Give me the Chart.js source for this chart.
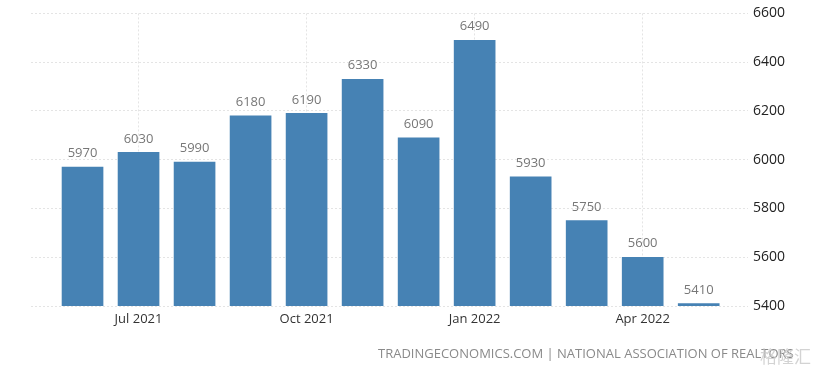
<!DOCTYPE html>
<html>
<head>
<meta charset="utf-8">
<script src="https://cdn.jsdelivr.net/npm/chart.js@4"></script>
<style>
  html, body { margin: 0; padding: 0; background: #fff; }
  #wrap { position: relative; width: 831px; height: 375px; }
  #fuente {
    position: absolute; left: 378px; top: 344px;
    font: 13px "Open Sans", sans-serif; color: #8a8a8a; white-space: nowrap;
  }
  #marca {
    position: absolute; left: 760px; top: 343px;
    font: 17px "Noto Sans CJK SC", sans-serif; color: rgba(200,200,200,0.8);
  }
</style>
</head>
<body>
<div id="wrap">
  <canvas id="grafico" width="831" height="375"></canvas>
  <div id="fuente">TRADINGECONOMICS.COM | NATIONAL ASSOCIATION OF REALTORS</div>
  <div id="marca">格隆汇</div>
</div>
<script>
// meses (jun 2021 - mai 2022)
const meses = ["Jun 2021", "Jul 2021", "Aug 2021", "Sep 2021", "Oct 2021", "Nov 2021",
               "Dec 2021", "Jan 2022", "Feb 2022", "Mar 2022", "Apr 2022", "May 2022"];
const vendas = [5970, 6030, 5990, 6180, 6190, 6330, 6090, 6490, 5930, 5750, 5600, 5410];
const mesesComRotulo = [1, 4, 7, 10];
const yTicks = [5400, 5600, 5800, 6000, 6200, 6400, 6600];

const pontos = vendas.map((v, i) => ({ x: i, y: v }));

// rótulos de valor em cima das barras
const rotulosBarras = {
  id: "rotulosBarras",
  afterDatasetsDraw(chart) {
    const ctx = chart.ctx;
    const meta = chart.getDatasetMeta(0);
    ctx.save();
    ctx.font = '13px "Open Sans", sans-serif';
    ctx.fillStyle = "#777";
    ctx.textAlign = "center";
    ctx.textBaseline = "bottom";
    meta.data.forEach((bar, i) => {
      ctx.fillText(String(vendas[i]), bar.x, bar.y - 7);
    });
    ctx.restore();
  }
};

new Chart(document.getElementById("grafico"), {
  type: "bar",
  data: {
    datasets: [{
      data: pontos,
      backgroundColor: "#4682b4",
      barThickness: 41
    }]
  },
  options: {
    responsive: false,
    animation: false,
    layout: { padding: { left: 31, top: 13, right: 0, bottom: 0 } },
    plugins: { legend: { display: false }, tooltip: { enabled: false } },
    scales: {
      x: {
        type: "linear",
        min: -0.92,
        max: 11.88,
        offset: false,
        border: { display: false, dash: [2, 2] },
        grid: { color: "#e4e4e4", drawTicks: false, offset: false },
        afterBuildTicks(axis) {
          axis.ticks = mesesComRotulo.map(v => ({ value: v }));
        },
        afterFit(axis) { axis.height = 69; },
        ticks: {
          autoSkip: false,
          maxRotation: 0,
          padding: 5,
          color: "#333",
          font: { family: "Open Sans", size: 13 },
          callback: (v) => meses[v]
        }
      },
      y: {
        position: "right",
        min: 5400,
        max: 6600,
        border: { display: false, dash: [2, 2] },
        grid: { color: "#e4e4e4", drawTicks: false },
        afterBuildTicks(axis) {
          axis.ticks = yTicks.map(v => ({ value: v }));
        },
        afterFit(axis) { axis.width = 83; },
        ticks: {
          padding: 5,
          color: "#222",
          font: { family: "Open Sans", size: 14 },
          callback: (v) => String(v)
        }
      }
    }
  },
  plugins: [rotulosBarras]
});
</script>
</body>
</html>
